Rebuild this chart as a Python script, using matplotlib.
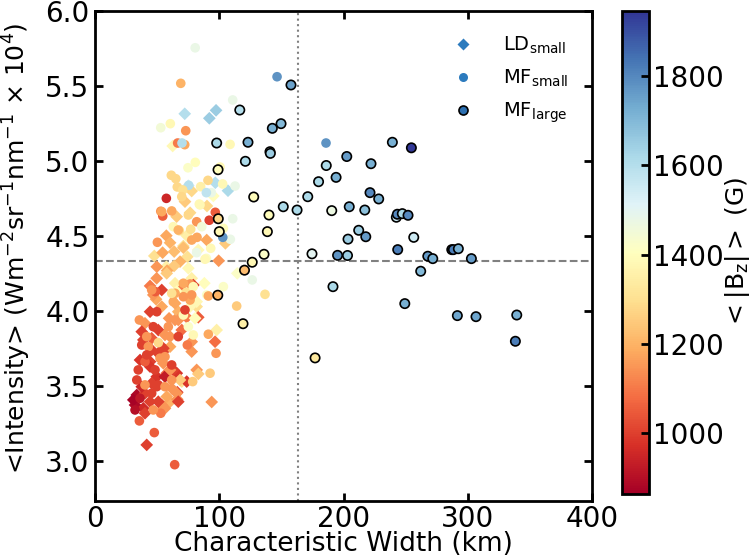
import matplotlib
matplotlib.use("Agg")
import matplotlib.pyplot as plt
from matplotlib.lines import Line2D

# ---------------- data ----------------
# LD small (diamonds): width (km), intensity, <|Bz|> (G)
ld_x = [72.2, 92.0, 97.4, 62.5, 75.1, 96.8, 107.0, 77.8, 95.2, 72.4, 90.1, 65.7, 76.5, 57.4, 73.8, 60.4, 71.1, 104.9,
        47.7, 54.4, 63.7, 71.1, 74.3, 68.4, 99.5, 57.4, 63.6, 49.6, 44.3, 58.0, 77.8, 88.0, 114.5, 68.4, 79.1, 49.1,
        81.8, 44.3, 59.6, 73.8, 83.1, 64.4, 97.9, 45.6, 60.4, 96.6, 56.3, 44.3, 57.7, 65.8, 81.8, 83.1, 69.8, 73.8,
        66.2, 60.4, 66.2, 93.9, 55.0, 33.6, 32.2, 41.6,
        57.7, 64.4, 46.9, 53.7, 67.0, 76.5, 80.5, 50.9, 40.2, 69.8, 77.8, 38.9, 45.6, 60.4, 36.2, 55.0, 63.0, 49.7,
        56.3, 68.4, 40.2, 65.8, 57.7, 53.7, 44.3,
        83.1, 89.9, 49.7, 75.1, 53.7, 65.8, 77.8, 67.0, 55.0,
        37.6, 56.3, 67.0, 64.4, 81.8, 44.3, 60.4, 37.6, 45.6, 30.8, 38.9, 40.2, 50.9, 56.3, 61.7, 50.9]
ld_y = [5.315, 5.285, 5.338, 5.10, 4.835, 4.855, 4.802, 4.80, 4.767, 4.729, 4.70, 4.629, 4.655, 4.502, 4.502, 4.455,
        4.433, 4.451,
        4.367, 4.389, 4.396, 4.422, 4.362, 4.329, 4.335, 4.295, 4.30, 4.218, 4.167, 4.269, 4.218, 4.185, 4.251, 4.162,
        4.173, 4.078, 4.029, 3.995, 3.951, 3.958, 3.958, 3.94, 3.873, 3.818, 3.829, 3.795, 3.74, 3.662, 3.585, 3.585,
        3.607, 3.58, 3.529, 3.529, 3.458, 3.395, 3.411, 3.393, 3.351, 3.44, 3.373, 3.107,
        4.251, 4.185, 4.107, 4.029, 3.995, 4.029, 3.951, 3.873, 3.918, 3.873, 3.795, 3.807, 3.74, 3.762, 3.673, 3.651,
        3.607, 3.562, 3.562, 3.54, 3.451, 3.451, 3.429, 3.373, 3.395,
        4.407, 4.473, 4.295, 4.285, 4.14, 4.129, 3.729, 3.395, 3.751,
        3.862, 3.84, 3.94, 4.051, 4.062, 3.629, 3.607, 3.495, 3.518, 3.407, 3.351, 3.318, 3.395, 3.351, 3.484, 3.718]
ld_b = [1600, 1650, 1650, 1380, 1550, 1600, 1620, 1280, 1400, 1250, 1280, 1250, 1280, 1180, 1350, 1200, 1300, 1250,
        1300, 1180, 1220, 1220, 1300, 1200, 1150, 1350, 1250, 1150, 1100, 1180, 1350, 1400, 1420, 1100, 1000, 1180,
        1300, 1000, 1150, 1100, 1050, 1150, 1350, 1050, 1150, 1080, 1000, 1000, 1080, 980, 1150, 1250, 1300, 980,
        1000, 1200, 1150, 1150, 1150, 880, 880, 1000,
        1250, 1350, 1150, 1180, 1200, 1380, 1400, 1000, 1150, 1080, 1150, 1000, 1000, 1180, 980, 1150, 1000, 980,
        930, 1250, 1000, 1150, 1180, 1150, 1000,
        1380, 1180, 1150, 1380, 1000, 1400, 1150, 1000, 1000,
        1000, 1150, 1150, 1180, 1380, 980, 1150, 950, 1000, 870, 960, 1000, 1000, 1150, 1150, 1000]

# MF small (filled circles, no edge)
mfs_x = [80.6, 69.0, 110.8, 52.9, 60.6, 73.0, 66.5, 72.2, 70.0, 108.7, 80.7, 74.8, 100.6, 61.4, 65.0, 90.9, 66.2,
         75.4, 102.7, 112.7, 85.0, 57.4, 93.6, 89.6, 83.9, 52.9, 54.5, 96.8, 91.9, 110.8, 81.8, 67.9, 77.0, 82.1,
         50.2, 108.9, 93.1,
         70.6, 69.8, 84.5, 61.7, 53.7, 75.1, 63.0, 85.9, 103.3,
         81.8, 89.6, 103.3, 89.9, 114.0, 136.8, 126.5, 76.5, 48.5, 64.4, 73.5, 35.7, 51.0, 67.0, 74.3, 97.4, 92.6,
         78.6, 40.2, 49.6, 52.9, 35.7, 47.7, 64.1,
         67.0, 77.8, 88.5, 91.2, 71.1, 79.1, 63.0, 76.5, 71.1, 46.9, 75.1, 79.1, 91.2,
         45.6, 61.7, 71.1, 37.6, 42.9, 52.3, 40.2, 33.6, 50.9, 45.6, 36.2, 61.7, 72.4, 49.7, 41.6, 59.0, 77.8, 34.8,
         48.3, 46.9, 32.2, 56.3, 41.6, 56.3, 61.7,
         146.5, 185.9, 102.8]
mfs_y = [5.755, 5.518, 5.407, 5.222, 5.249, 5.202, 5.12, 5.109, 5.12, 5.111, 4.991, 4.955, 4.96, 4.905, 4.882, 4.871,
         4.827, 4.838, 4.847, 4.833, 4.829, 4.751, 4.789, 4.789, 4.713, 4.665, 4.633, 4.658, 4.605, 4.615, 4.595,
         4.535, 4.545, 4.491, 4.458, 4.478, 4.418,
         4.807, 4.762, 4.707, 4.667, 4.662, 4.64, 4.562, 4.562, 4.551,
         4.389, 4.351, 4.162, 4.107, 4.033, 4.111, 4.207, 4.18, 4.129, 4.118, 4.125, 3.94, 3.789, 3.829, 3.773,
         3.718, 3.585, 3.529, 3.507, 3.495, 3.318, 3.267, 3.189, 2.975,
         4.54, 4.473, 4.345, 4.10, 4.185, 4.162, 4.062, 4.073, 3.973, 3.895, 3.895, 3.84, 3.845,
         4.14, 4.118, 4.095, 3.773, 3.762, 3.685, 3.662, 3.54, 3.507, 3.451, 3.418, 3.54, 4.007, 3.995, 3.829, 3.895,
         4.107, 3.607, 3.607, 3.34, 3.34, 3.495, 3.707, 3.695, 3.64,
         5.562, 5.12, 4.491]
mfs_b = [1480, 1200, 1480, 1450, 1380, 1150, 1100, 1180, 1600, 1380, 1400, 1420, 1380, 1280, 1280, 1280, 1280,
         1600, 1380, 1480, 1350, 950, 1480, 1580, 1380, 1150, 1050, 1050, 1000, 1480, 1150, 1300, 1300, 1180,
         1150, 1480, 1380,
         1300, 1280, 1380, 1180, 1180, 1280, 1380, 1450, 1400,
         1480, 1420, 1420, 1420, 1250, 1300, 1480, 1150, 1050, 1180, 1300, 1150, 1280, 1000, 1100, 1150, 1250,
         1250, 1150, 1000, 1100, 1050, 1050, 1050,
         1200, 1180, 1380, 1180, 1180, 1380, 1180, 1180, 1380, 1000, 1420, 1380, 1180,
         1150, 1300, 1150, 1000, 1150, 1150, 1050, 1000, 1000, 1000, 920, 1150, 1000, 1000, 1150, 1150, 1150, 1000,
         1000, 1150, 900, 1150, 1000, 1150, 1000,
         1780, 1780, 1780]

# MF large (circles with black edge)
mfl_x = [116.5, 157.7, 142.7, 149.7, 97.9, 123.1, 140.8, 141.1, 121.0, 99.0, 127.7, 151.5, 162.6, 140.0, 99.2,
         100.0, 138.7, 136.0, 126.5, 120.3, 98.8, 119.1, 177.1, 171.2, 179.9, 186.1, 194.0, 202.6, 190.5, 204.6,
         203.6, 174.6, 195.2, 203.2, 191.5, 239.3, 254.6, 222.1, 221.3, 228.3, 217.1, 242.5, 243.3, 247.3, 251.9,
         212.2, 217.9, 256.5, 243.6, 267.8, 271.8, 287.1, 288.4, 292.4, 302.9, 262.1, 249.3, 291.6, 306.6, 339.4,
         338.3]
mfl_y = [5.34, 5.507, 5.218, 5.249, 5.12, 5.125, 5.062, 5.051, 4.998, 4.942, 4.76, 4.695, 4.673, 4.64, 4.615,
         4.529, 4.529, 4.378, 4.325, 4.272, 4.105, 3.915, 3.687, 4.762, 4.862, 4.97, 4.891, 5.03, 4.669, 4.695,
         4.479, 4.381, 4.371, 4.37, 4.162, 5.125, 5.088, 4.982, 4.789, 4.747, 4.673, 4.625, 4.645, 4.649, 4.638,
         4.538, 4.495, 4.491, 4.409, 4.365, 4.349, 4.409, 4.409, 4.415, 4.349, 4.265, 4.049, 3.969, 3.962, 3.973,
         3.798]
mfl_b = [1600, 1750, 1720, 1700, 1620, 1720, 1500, 1650, 1620, 1400, 1400, 1620, 1620, 1400, 1280,
         1380, 1380, 1420, 1380, 1220, 1200, 1350, 1330, 1620, 1620, 1620, 1720, 1760, 1470, 1720,
         1650, 1500, 1780, 1650, 1620, 1720, 1940, 1720, 1800, 1720, 1680, 1550, 1800, 1620, 1800,
         1650, 1760, 1550, 1820, 1760, 1720, 1820, 1820, 1720, 1760, 1700, 1720, 1740, 1740, 1720,
         1820]

legend_labels = [r"LD$_{\rm small}$", r"MF$_{\rm small}$", r"MF$_{\rm large}$"]
x_ticks = [0, 100, 200, 300, 400]
y_ticks = [3.0, 3.5, 4.0, 4.5, 5.0, 5.5, 6.0]
y_ticklabels = ["3.0", "3.5", "4.0", "4.5", "5.0", "5.5", "6.0"]
cb_ticks = [1000, 1200, 1400, 1600, 1800]

width_thresh = 163.5
intensity_thresh = 4.333
b_min, b_max = 863, 1946

# ---------------- plot ----------------
fig = plt.figure(figsize=(7.5, 5.58), dpi=100)
ax = fig.add_axes([0.1267, 0.1022, 0.6627, 0.878])
cmap = plt.get_cmap("RdYlBu")

ax.scatter(ld_x, ld_y, c=ld_b, cmap=cmap, vmin=b_min, vmax=b_max, marker="D", s=42,
           edgecolors="none", zorder=2)
ax.scatter(mfs_x, mfs_y, c=mfs_b, cmap=cmap, vmin=b_min, vmax=b_max, marker="o", s=48,
           edgecolors="none", zorder=3)
sc = ax.scatter(mfl_x, mfl_y, c=mfl_b, cmap=cmap, vmin=b_min, vmax=b_max, marker="o", s=45,
                edgecolors="black", linewidths=1.2, zorder=4)

ax.axvline(width_thresh, color="grey", linestyle=":", linewidth=1.5, zorder=1)
ax.axhline(intensity_thresh, color="grey", linestyle="--", linewidth=1.5, zorder=1)

ax.set_xlim(0, 400)
ax.set_ylim(2.733, 6.0)
ax.set_xticks(x_ticks)
ax.set_yticks(y_ticks)
ax.set_yticklabels(y_ticklabels)
ax.tick_params(direction="in", length=6, width=2, labelsize=20, top=True, right=True, pad=4)
ax.tick_params(axis="x", pad=3)
for sp in ax.spines.values():
    sp.set_linewidth(2)

ax.set_xlabel("Characteristic Width (km)", fontsize=19)
ax.xaxis.set_label_coords(0.5, -0.062)
ax.set_ylabel(r"<Intensity> (Wm$^{-2}$sr$^{-1}$nm$^{-1}$ $\times$ 10$^{4}$)", fontsize=18)
ax.yaxis.set_label_coords(-0.125, 0.515)

# legend
handles = [
    Line2D([], [], marker="D", linestyle="none", markersize=6, color="#2c7bbe", markeredgecolor="none"),
    Line2D([], [], marker="o", linestyle="none", markersize=6.5, color="#2c7bbe", markeredgecolor="none"),
    Line2D([], [], marker="o", linestyle="none", markersize=6.5, color="#2c6fb0", markeredgecolor="black",
           markeredgewidth=1.2),
]
ax.legend(handles, legend_labels, loc="upper right", frameon=False, fontsize=14, handletextpad=1.6,
          borderaxespad=0.8, labelspacing=0.6, handlelength=1.0)

# colorbar
cax = fig.add_axes([0.8293, 1 - 494 / 558, 0.036, (494 - 11) / 558])
cb = fig.colorbar(sc, cax=cax)
cb.set_ticks(cb_ticks)
cb.ax.tick_params(direction="in", length=6, width=2, labelsize=20, pad=3)
cb.outline.set_linewidth(2)
cb.set_label(r"$<|\mathrm{B}_\mathrm{z}|>$ (G)", fontsize=18, labelpad=-1)

fig.savefig("out.png", dpi=100)
